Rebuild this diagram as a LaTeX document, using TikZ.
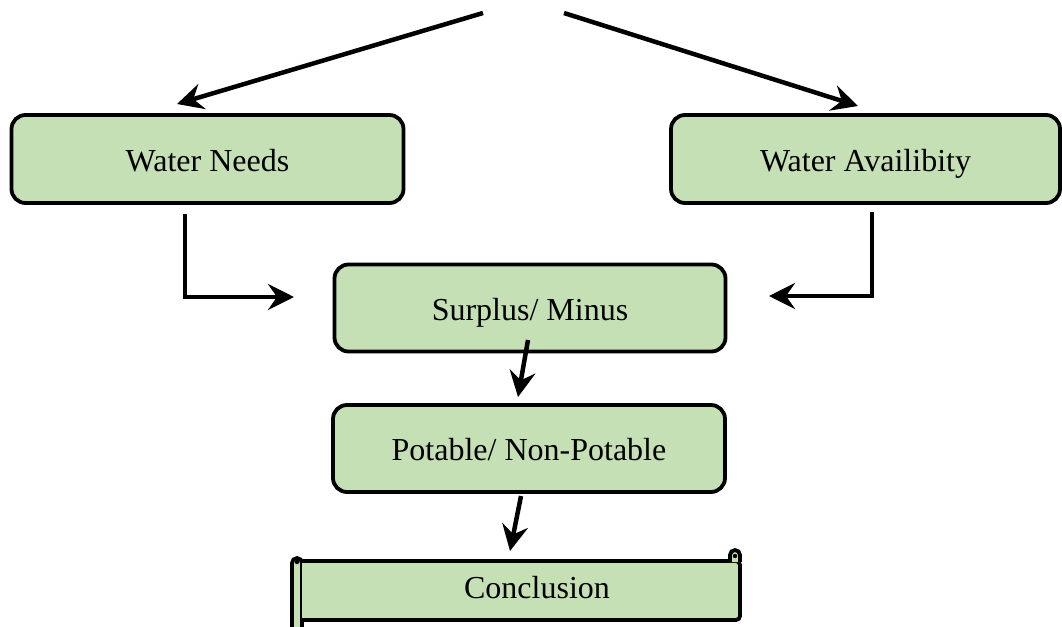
\documentclass[tikz,border=0pt]{standalone}
\usepackage{fontspec}
\setmainfont{Liberation Serif}
\usetikzlibrary{arrows.meta}
\definecolor{boxgreen}{HTML}{C5E0B4}
\tikzset{
  boxtext/.style={font=\fontsize{32}{36}\selectfont, inner sep=0pt, text height=24pt, text depth=0pt},
  flowbox/.style={boxtext, draw=black, fill=boxgreen, line width=3.8pt, rounded corners=14pt},
  conn/.style={line width=4.5pt, -{Stealth[length=26pt, width=26pt, inset=9pt]}},
  scrollpart/.style={draw=black, fill=boxgreen, line width=3.8pt},
}
\begin{document}
\begin{tikzpicture}[x=1pt, y=-1pt]
\useasboundingbox (0,0) rectangle (1062,626);
\clip (0,0) rectangle (1062,626);
% boxes
\node[flowbox, minimum width=392pt, minimum height=88pt] (wn) at (207.5,159) {Water Needs};
\node[flowbox, minimum width=389pt, minimum height=88pt] (wa) at (865.5,159) {Water Availibity};
\node[flowbox, minimum width=391pt, minimum height=87pt] (sm) at (530,308) {Surplus/ Minus};
\node[flowbox, minimum width=392pt, minimum height=87pt] (pn) at (529,448.5) {Potable/ Non-Potable};
% scroll (Conclusion)
\filldraw[scrollpart] (292,640) -- (292,563) arc (180:360:5) -- (302,640);
\filldraw[scrollpart, rounded corners=4pt] (302,561) -- (740,561) -- (740,620) -- (302,620);
\filldraw[scrollpart] (740,562) -- (740,555) arc (0:-180:5) -- (730,562);
\fill[black] (735,556) circle (2.2);
\fill[black] (297,562) circle (2.2);
\node[boxtext] (cc) at (537,586) {Conclusion};
% free ends
\coordinate (tl) at (483,13);
\coordinate (tr) at (564,13);
\coordinate (tlTip) at (177,104);
\coordinate (trTip) at (858,106);
\coordinate (wnOut) at (185,214);
\coordinate (wnBend) at (185,297);
\coordinate (smInL) at (294,297);
\coordinate (waOut) at (872,212);
\coordinate (waBend) at (872,296);
\coordinate (smInR) at (769,296);
\coordinate (smOut) at (528,340);
\coordinate (pnIn) at (518,397);
\coordinate (pnOut) at (521,496);
\coordinate (ccIn) at (510,551);
% connectors
\draw[conn] (tl) -- (tlTip);
\draw[conn] (tr) -- (trTip);
\draw[conn] (wnOut) -- (wnBend) -- (smInL);
\draw[conn] (waOut) -- (waBend) -- (smInR);
\draw[conn] (smOut) -- (pnIn);
\draw[conn] (pnOut) -- (ccIn);
\end{tikzpicture}
\end{document}
